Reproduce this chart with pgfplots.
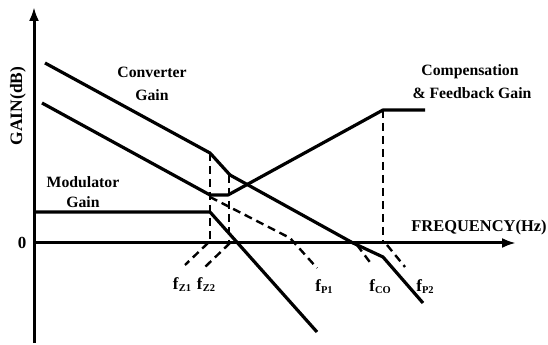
\documentclass[border=0pt]{standalone}
\usepackage{fontspec}
\setmainfont{Liberation Serif}
\usepackage{pgfplots}
\pgfplotsset{compat=1.18}
\usetikzlibrary{arrows.meta}
\newcommand{\fs}[1]{\textbf{f}{\fontsize{10.5}{10}\selectfont\bfseries\raisebox{-2pt}{#1}}}
\tikzset{
  lbl/.style={font=\fontsize{15.8}{16}\selectfont\bfseries, align=center, inner sep=0pt},
  sub/.style={font=\fontsize{17}{16}\selectfont, inner sep=0pt},
  solid line/.style={black, line width=3.2bp, line join=round},
  dline/.style={black, line width=2.4bp, dash pattern=on 8bp off 5bp},
}
\begin{document}
\begin{tikzpicture}
\begin{axis}[
  scale only axis, width=548bp, height=343bp,
  xmin=-34, xmax=514, ymin=-100, ymax=243,
  hide axis, clip=false,
]
\path (rel axis cs:0,0) rectangle (rel axis cs:1,1);
% axes
\addplot[black, line width=3bp, -{Latex[length=14bp,width=10bp]}] coordinates {(0,-100) (0,236)};
\addplot[black, line width=3bp, -{Latex[length=14bp,width=10bp]}] coordinates {(0,0) (482,0)};
% converter gain
\addplot[solid line] coordinates {(11,180) (176,90) (196,68) (319,0) (349,-14) (389,-60)};
% compensation & feedback gain
\addplot[solid line] coordinates {(8,140) (176,48) (194,48) (349,133) (391,133)};
% modulator gain
\addplot[solid line] coordinates {(2,31) (176,31) (283,-89)};
% dashed lines
\addplot[dline] coordinates {(176,46) (256,5) (283,-25)};
\addplot[dline] coordinates {(176,90) (176,0)};
\addplot[dline] coordinates {(195,68) (195,0)};
\addplot[dline] coordinates {(349,133) (349,0)};
\addplot[dline] coordinates {(174,0) (151,-22)};
\addplot[dline] coordinates {(196,0) (171,-24)};
\addplot[dline] coordinates {(323,-2) (338,-22)};
\addplot[dline] coordinates {(353,-2) (371,-24)};
% texts
\node[lbl] at (axis cs:118,171) {Converter};
\node[lbl] at (axis cs:118,148) {Gain};
\node[lbl] at (axis cs:436,171) {Compensation};
\node[lbl] at (axis cs:438,150) {\& Feedback Gain};
\node[lbl] at (axis cs:49,61) {Modulator};
\node[lbl] at (axis cs:49,41) {Gain};
\node[lbl, font=\fontsize{16.5}{16}\selectfont\bfseries] at (axis cs:445,15) {FREQUENCY(Hz)};
\node[lbl, rotate=90, font=\fontsize{17.5}{16}\selectfont\bfseries] at (axis cs:-16,137) {GAIN(dB)};
\node[lbl, font=\fontsize{17}{16}\selectfont\bfseries] at (axis cs:-12,0) {0};
\node[sub] at (axis cs:148,-42) {\fs{Z1}};
\node[sub] at (axis cs:172,-42) {\fs{Z2}};
\node[sub] at (axis cs:290,-44) {\fs{P1}};
\node[sub] at (axis cs:346,-44) {\fs{CO}};
\node[sub] at (axis cs:391,-44) {\fs{P2}};
\end{axis}
\end{tikzpicture}
\end{document}
